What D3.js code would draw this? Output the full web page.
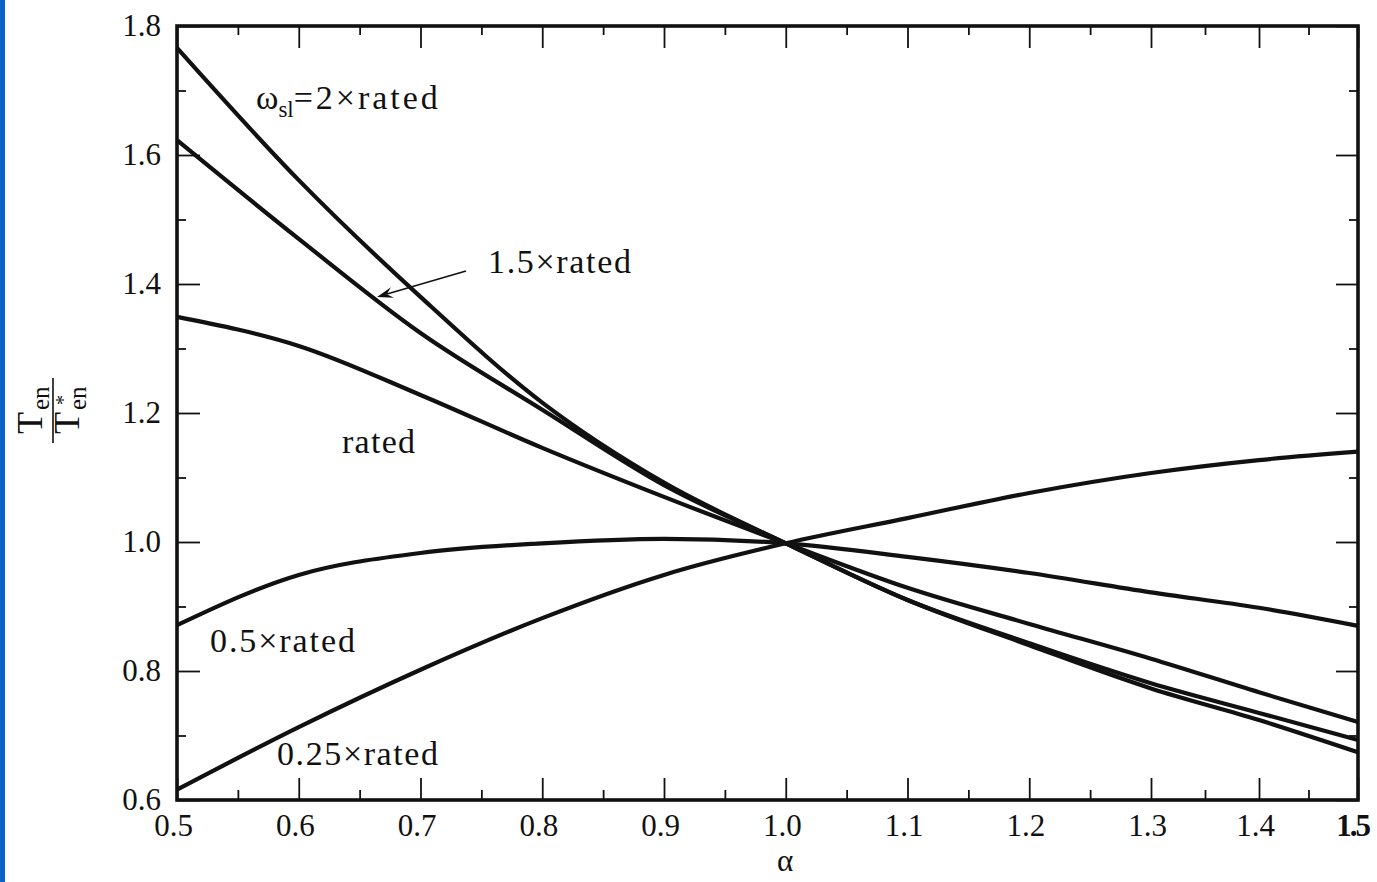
<!DOCTYPE html>
<html>
<head>
<meta charset="utf-8">
<script src="https://cdn.jsdelivr.net/npm/d3@7"></script>
<style>
  body { margin: 0; background: #fff; }
  svg text { font-family: "Liberation Serif", "Times New Roman", serif; fill: #111; }
</style>
</head>
<body>
<svg id="chart" width="1377" height="882"></svg>
<script>
// alpha (rotor resistance ratio) and torque ratio for each slip
const alpha = [0.5, 0.6, 0.7, 0.8, 0.9, 1.0, 1.1, 1.2, 1.3, 1.4, 1.5];
const slip2 = [1.766, 1.561, 1.380, 1.216, 1.092, 0.998, 0.910, 0.840, 0.773, 0.724, 0.674];
const slip15 = [1.623, 1.470, 1.324, 1.205, 1.088, 0.998, 0.910, 0.843, 0.781, 0.735, 0.693];
const slipRated = [1.349, 1.304, 1.228, 1.146, 1.070, 0.998, 0.929, 0.873, 0.819, 0.767, 0.721];
const slip05 = [0.871, 0.949, 0.983, 0.998, 1.005, 0.998, 0.977, 0.952, 0.922, 0.898, 0.870];
const slip025 = [0.616, 0.713, 0.802, 0.882, 0.949, 0.998, 1.037, 1.076, 1.107, 1.127, 1.140];

const xMajor = [0.5, 0.6, 0.7, 0.8, 0.9, 1.0, 1.1, 1.2, 1.3, 1.4, 1.5];
const xMinor = [0.55, 0.65, 0.75, 0.85, 0.95, 1.05, 1.15, 1.25, 1.35, 1.45];
const yMajor = [0.6, 0.8, 1.0, 1.2, 1.4, 1.6, 1.8];
const yMinor = [0.7, 0.9, 1.1, 1.3, 1.5, 1.7];

const svg = d3.select('#chart');

// blue strip on the left edge
svg.append('rect').attr('x', 0).attr('y', 0).attr('width', 5).attr('height', 882).attr('fill', '#0a64c8');

// the scan squeezes the last two divisions, so the x scale is piecewise
var x = d3.scaleLinear().domain([0.5, 1.3, 1.4, 1.5]).range([177, 1151, 1259, 1358]);
var y = d3.scaleLinear().domain([0.6, 1.8]).range([800, 26]);

var fmt = d3.format('.1f');

function styleAxis(g) {
  g.select('.domain').remove();
  g.selectAll('line').attr('stroke', '#111').attr('stroke-width', 1.8);
  g.selectAll('text').attr('font-size', 31).attr('fill', '#111')
    .attr('font-family', '"Liberation Serif", "Times New Roman", serif');
}

// bottom
svg.append('g').attr('transform', 'translate(0,800)')
  .call(d3.axisBottom(x).tickValues(xMinor).tickSize(-10).tickFormat(''))
  .call(styleAxis);
svg.append('g').attr('transform', 'translate(0,800)')
  .call(d3.axisBottom(x).tickValues(xMajor).tickSizeInner(-22).tickSizeOuter(0).tickPadding(14).tickFormat(fmt))
  .call(styleAxis)
  .call(g => g.selectAll('.tick text').attr('dx', -4))
  .call(g => g.selectAll('.tick text').filter(d => d === 1.5)
    .attr('font-weight', 'bold').attr('letter-spacing', -2).attr('dx', -6));

// top
svg.append('g').attr('transform', 'translate(0,26)')
  .call(d3.axisTop(x).tickValues(xMinor).tickSize(-9).tickFormat(''))
  .call(styleAxis);
svg.append('g').attr('transform', 'translate(0,26)')
  .call(d3.axisTop(x).tickValues(xMajor).tickSize(-22).tickFormat(''))
  .call(styleAxis);

// left
svg.append('g').attr('transform', 'translate(177,0)')
  .call(d3.axisLeft(y).tickValues(yMinor).tickSize(-9).tickFormat(''))
  .call(styleAxis);
svg.append('g').attr('transform', 'translate(177,0)')
  .call(d3.axisLeft(y).tickValues(yMajor).tickSizeInner(-23).tickSizeOuter(0).tickPadding(16).tickFormat(fmt))
  .call(styleAxis);

// right
svg.append('g').attr('transform', 'translate(1358,0)')
  .call(d3.axisRight(y).tickValues(yMinor).tickSize(-9).tickFormat(''))
  .call(styleAxis);
svg.append('g').attr('transform', 'translate(1358,0)')
  .call(d3.axisRight(y).tickValues(yMajor).tickSize(-22).tickFormat(''))
  .call(styleAxis);

// frame
svg.append('rect')
  .attr('x', x(0.5)).attr('y', y(1.8))
  .attr('width', x(1.5) - x(0.5)).attr('height', y(0.6) - y(1.8))
  .attr('fill', 'none').attr('stroke', '#111').attr('stroke-width', 3.6);

// curves
var line = d3.line()
  .x((d) => { return x(d[0]) })
  .y((d) => { return y(d[1]) })
  .curve(d3.curveMonotoneX);

[slip2, slip15, slipRated, slip05, slip025].forEach(function(vals) {
  svg.append('path')
    .datum(alpha.map((a, i) => [a, vals[i]]))
    .attr('fill', 'none')
    .attr('stroke', '#111')
    .attr('stroke-width', 4.2)
    .attr('stroke-linejoin', 'round')
    .attr('d', line);
});

// curve labels
var lab = svg.append('g').attr('font-size', 34);
var t1 = lab.append('text').attr('x', 256).attr('y', 109);
t1.append('tspan').text('ω');
t1.append('tspan').attr('font-size', 23).attr('dy', 8).text('sl');
t1.append('tspan').attr('dy', -8).attr('textLength', 144).text('=2×rated');

lab.append('text').attr('x', 488).attr('y', 273).attr('textLength', 143).text('1.5×rated');
lab.append('text').attr('x', 342).attr('y', 453).attr('textLength', 73).text('rated');
lab.append('text').attr('x', 210).attr('y', 652).attr('textLength', 145).text('0.5×rated');
lab.append('text').attr('x', 277).attr('y', 765).attr('textLength', 161).text('0.25×rated');

// arrow to the 1.5x curve
var ax0 = 466, ay0 = 271, ax1 = 377, ay1 = 297;
svg.append('line').attr('x1', ax0).attr('y1', ay0).attr('x2', ax1 + 10).attr('y2', ay1 - 3)
  .attr('stroke', '#111').attr('stroke-width', 1.6);
var ang = Math.atan2(ay1 - ay0, ax1 - ax0);
var hl = 17, hw = 0.33;
svg.append('path')
  .attr('d', 'M' + ax1 + ',' + ay1 +
    'L' + (ax1 - hl * Math.cos(ang - hw)) + ',' + (ay1 - hl * Math.sin(ang - hw)) +
    'L' + (ax1 - hl * 0.6 * Math.cos(ang)) + ',' + (ay1 - hl * 0.6 * Math.sin(ang)) +
    'L' + (ax1 - hl * Math.cos(ang + hw)) + ',' + (ay1 - hl * Math.sin(ang + hw)) + 'Z')
  .attr('fill', '#111');

// x axis title
svg.append('text').attr('x', 785).attr('y', 871).attr('text-anchor', 'middle')
  .attr('font-size', 31).text('α');

// y axis title: T_en / T*_en, rotated
var yt = svg.append('g').attr('transform', 'translate(53,410) rotate(-90)');
yt.append('text').attr('x', -24).attr('y', -11).attr('font-size', 36).text('T');
yt.append('text').attr('x', 0).attr('y', -4).attr('font-size', 25).text('en');
yt.append('line').attr('x1', -33).attr('x2', 32).attr('y1', 0).attr('y2', 0)
  .attr('stroke', '#111').attr('stroke-width', 1.6);
yt.append('text').attr('x', -24).attr('y', 26).attr('font-size', 36).text('T');
yt.append('text').attr('x', 5).attr('y', 17).attr('font-size', 20).text('*');
yt.append('text').attr('x', 0).attr('y', 33).attr('font-size', 25).text('en');
</script>
</body>
</html>
